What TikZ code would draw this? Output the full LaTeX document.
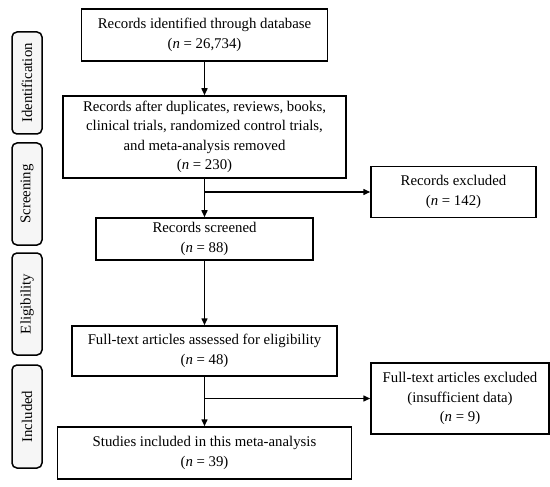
\documentclass[tikz,border=0pt]{standalone}
\usepackage{fontspec}
\setmainfont{Liberation Serif}
\usetikzlibrary{arrows.meta}

\begin{document}
\begin{tikzpicture}[x=1pt, y=-1pt,
  box/.style={draw, line width=1.5pt, align=center, inner sep=0pt, font=\fontsize{14.8}{19.5}\selectfont},
  phase/.style={draw, line width=1.5pt, rounded corners=5pt, fill=gray!7, rotate=90, inner sep=0pt, minimum height=30pt, font=\fontsize{14.8}{17}\selectfont},
  arr/.style={line width=1.5pt, -{Triangle[length=7pt, width=6pt]}}]
\useasboundingbox (0,0) rectangle (550,487);

% phases
\node[phase, minimum width=102pt] (ident) at (27,83) {Identification};
\node[phase, minimum width=102pt] (screen) at (27,194) {Screening};
\node[phase, minimum width=102pt] (elig) at (27,304) {Eligibility};
\node[phase, minimum width=103pt] (incl) at (27,416.5) {Included};

% boxes
\node[box, minimum width=246pt, minimum height=52pt] (found) at (204.5,35) {Records identified through database\\(\textit{n} = 26,734)};
\node[box, minimum width=283pt, minimum height=82pt] (removed) at (204.5,137) {Records after duplicates, reviews, books,\\clinical trials, randomized control trials,\\and meta-analysis removed\\(\textit{n} = 230)};
\node[box, minimum width=165pt, minimum height=51pt] (excl) at (453.5,192) {Records excluded\\(\textit{n} = 142)};
\node[box, minimum width=217pt, minimum height=42pt] (screened) at (204.5,239) {Records screened\\(\textit{n} = 88)};
\node[box, minimum width=265pt, minimum height=50pt] (fulltext) at (204.5,351) {Full-text articles assessed for eligibility\\(\textit{n} = 48)};
\node[box, minimum width=178pt, minimum height=71pt] (ftexcl) at (460,398.5) {Full-text articles excluded\\(insufficient data)\\(\textit{n} = 9)};
\node[box, minimum width=294pt, minimum height=52pt] (studies) at (204.5,453) {Studies included in this meta-analysis\\(\textit{n} = 39)};

% arrows
\coordinate (split1) at (removed.south |- excl.west);
\coordinate (split2) at (fulltext.south |- ftexcl.west);
\draw[arr] (found) -- (removed);
\draw[arr] (removed) -- (screened);
\draw[arr] (split1) -- (excl);
\draw[arr] (screened) -- (fulltext);
\draw[arr] (fulltext) -- (studies);
\draw[arr] (split2) -- (ftexcl);
\end{tikzpicture}
\end{document}
